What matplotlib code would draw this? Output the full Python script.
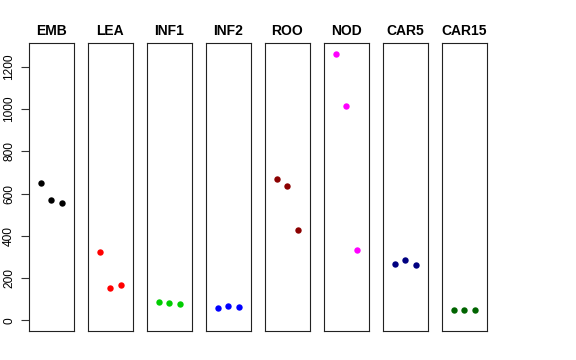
import matplotlib
matplotlib.use("Agg")
import matplotlib.pyplot as plt

plt.rcParams['font.family'] = ['Liberation Sans', 'DejaVu Sans']

tissues = ["EMB", "LEA", "INF1", "INF2", "ROO", "NOD", "CAR5", "CAR15"]
colors = ["black", "red", "#00CD00", "blue", "#8B0000", "magenta", "#000080", "#006400"]
values = {
    "EMB": [650, 569, 556],
    "LEA": [323, 151, 167],
    "INF1": [85, 80, 79],
    "INF2": [60, 66, 61],
    "ROO": [668, 636, 428],
    "NOD": [1261, 1017, 335],
    "CAR5": [268, 287, 262],
    "CAR15": [47, 49, 47],
}
yticks = [0, 200, 400, 600, 800, 1000, 1200]

W, H = 576, 360
fig = plt.figure(figsize=(W / 100, H / 100), dpi=100)

ymax = max(max(v) for v in values.values())
ylo, yhi = 0 - 0.04 * ymax, ymax * 1.04
xlo, xhi = 0 - 0.16, 4 + 0.16

left0, step, pw = 29.0, 59.0, 44.7
top, bottom = 43.3, 331.0
for i, (name, col) in enumerate(zip(tissues, colors)):
    l = left0 + i * step
    ax = fig.add_axes([l / W, 1 - bottom / H, pw / W, (bottom - top) / H])
    ax.plot([1, 2, 3], values[name], 'o', color=col, markersize=4.6, markeredgewidth=0)
    ax.set_xlim(xlo, xhi)
    ax.set_ylim(ylo, yhi)
    ax.set_xticks([])
    for s in ax.spines.values():
        s.set_linewidth(0.8)
        s.set_color('#222222')
    ax.set_title(name, fontsize=10, fontweight='bold', pad=6)
    if i == 0:
        ax.set_yticks(yticks)
        ax.set_yticklabels([str(t) for t in yticks], rotation=90, va='center', fontsize=8.6)
        ax.tick_params(axis='y', length=5.5, width=0.8, pad=4.5, color='#333333')
    else:
        ax.set_yticks([])

fig.savefig("out.png", dpi=100)
